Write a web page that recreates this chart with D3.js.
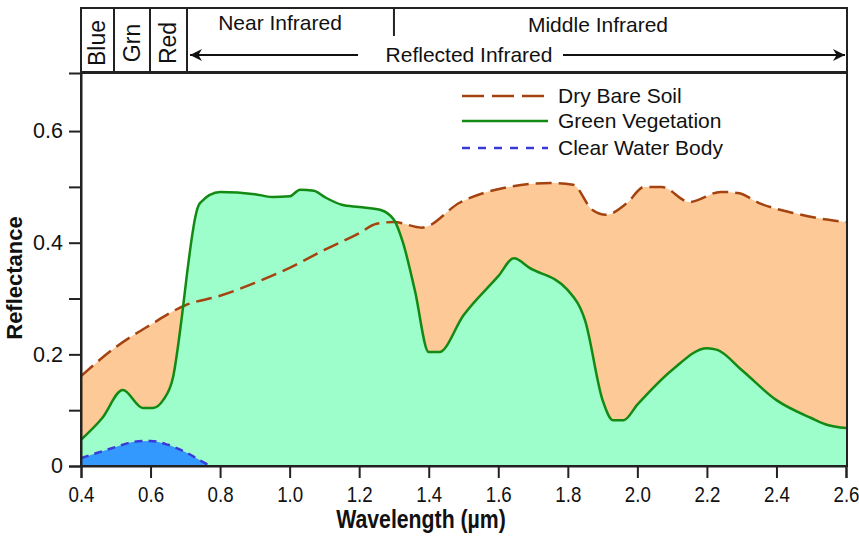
<!DOCTYPE html>
<html>
<head>
	<title>Spectral reflectance</title>
	<meta charset="utf-8">
	<script src="https://cdn.jsdelivr.net/npm/d3@7"></script>
	<style>
		body { margin: 0; background: #fff; }
		text { font-family: "Liberation Sans", Arial, sans-serif; fill: #111; }
	</style>
</head>
<body>
<div id="chart"></div>
<script>
// data
var xTicks = [0.4, 0.6, 0.8, 1.0, 1.2, 1.4, 1.6, 1.8, 2.0, 2.2, 2.4, 2.6];
var yTicks = [0, 0.1, 0.2, 0.3, 0.4, 0.5, 0.6];
var yLabels = [0, 0.2, 0.4, 0.6];

var soilWl = [0.4, 0.5, 0.6, 0.7, 0.8, 0.9, 1.0, 1.1, 1.2, 1.25, 1.3, 1.38, 1.49, 1.63, 1.75, 1.815, 1.87, 1.91, 1.97, 2.02, 2.07, 2.15, 2.24, 2.29, 2.35, 2.45, 2.55, 2.6];
var soilR  = [0.161, 0.213, 0.253, 0.288, 0.305, 0.328, 0.355, 0.387, 0.417, 0.434, 0.437, 0.427, 0.472, 0.500, 0.507, 0.504, 0.459, 0.450, 0.471, 0.500, 0.500, 0.473, 0.491, 0.489, 0.471, 0.453, 0.441, 0.437];

var vegWl = [0.4, 0.46, 0.52, 0.578, 0.607, 0.636, 0.665, 0.69, 0.705, 0.719, 0.728, 0.742, 0.8, 0.9, 0.95, 1.0, 1.03, 1.07, 1.1, 1.15, 1.2, 1.26, 1.3, 1.326, 1.36, 1.40, 1.43, 1.5, 1.6, 1.645, 1.69, 1.8, 1.85, 1.9, 1.93, 1.96, 2.0, 2.1, 2.2, 2.23, 2.3, 2.4, 2.5, 2.55, 2.6];
var vegR  = [0.047, 0.085, 0.136, 0.104, 0.104, 0.118, 0.16, 0.267, 0.345, 0.41, 0.444, 0.471, 0.491, 0.487, 0.482, 0.483, 0.495, 0.493, 0.482, 0.468, 0.464, 0.459, 0.441, 0.40, 0.315, 0.204, 0.204, 0.27, 0.34, 0.372, 0.355, 0.315, 0.26, 0.118, 0.082, 0.082, 0.11, 0.172, 0.211, 0.208, 0.172, 0.118, 0.086, 0.073, 0.068];

var waterWl = [0.4, 0.5, 0.55, 0.6, 0.65, 0.7, 0.74, 0.771];
var waterR  = [0.014, 0.034, 0.043, 0.045, 0.038, 0.025, 0.011, 0.0];

var legendNames = ["Dry Bare Soil", "Green Vegetation", "Clear Water Body"];
var bandNames = ["Blue", "Grn", "Red"];
var regionNames = ["Near Infrared", "Middle Infrared", "Reflected Infrared"];

var width = 859, height = 539;
var svg = d3.select("#chart").append("svg")
	.attr("width", width)
	.attr("height", height);

var x = d3.scaleLinear().domain([0.4, 2.6]).range([81, 846]);
var y = d3.scaleLinear().domain([0, 0.704]).range([466, 73]);

function pts(ws, rs) { return ws.map(function(w, i) { return [w, rs[i]]; }); }

var area = d3.area().x(function(d) { return x(d[0]); })
	.y0(y(0)).y1(function(d) { return y(d[1]); })
	.curve(d3.curveMonotoneX);
var line = d3.line().x(function(d) { return x(d[0]); })
	.y(function(d) { return y(d[1]); })
	.curve(d3.curveMonotoneX);

var soil = pts(soilWl, soilR), veg = pts(vegWl, vegR), water = pts(waterWl, waterR);

// fills
svg.append("path").attr("d", area(soil)).attr("fill", "#fdc996");
svg.append("path").attr("d", area(veg)).attr("fill", "#9dfdcb");
svg.append("path").attr("d", area(water)).attr("fill", "#3399ff");

// lines
svg.append("path").attr("d", line(soil)).attr("fill", "none")
	.attr("stroke", "#a4430f").attr("stroke-width", 2.5).attr("stroke-dasharray", "16,7");
svg.append("path").attr("d", line(veg)).attr("fill", "none")
	.attr("stroke", "#138a13").attr("stroke-width", 2.5);
svg.append("path").attr("d", line(water)).attr("fill", "none")
	.attr("stroke", "#3a3ad8").attr("stroke-width", 2.5).attr("stroke-dasharray", "8,6");

// frame
svg.append("rect").attr("x", x(0.4)).attr("y", y(0.704))
	.attr("width", x(2.6) - x(0.4) + 1).attr("height", y(0) - y(0.704))
	.attr("fill", "none").attr("stroke", "#222").attr("stroke-width", 2);

// axes
var xAxis = d3.axisBottom(x).tickValues(xTicks).tickSize(12).tickFormat(d3.format(".1f"));
var gx = svg.append("g").attr("transform", "translate(0," + y(0) + ")").call(xAxis);
gx.select(".domain").attr("stroke-width", 2).attr("stroke", "#222");
gx.selectAll(".tick line").attr("stroke-width", 2).attr("stroke", "#222");
gx.selectAll("text").attr("font-size", 22).attr("dy", "0.95em")
	.attr("transform", "scale(0.85,1)");

var yAxis = d3.axisLeft(y).tickValues(yTicks).tickSize(12)
	.tickFormat(function(d) { return yLabels.indexOf(d) >= 0 ? (d === 0 ? "0" : d3.format(".1f")(d)) : ""; });
var gy = svg.append("g").attr("transform", "translate(" + x(0.4) + ",0)").call(yAxis);
gy.select(".domain").attr("stroke-width", 2).attr("stroke", "#222");
gy.selectAll(".tick line").attr("stroke-width", 2).attr("stroke", "#222");
gy.selectAll("text").attr("font-size", 21.5).attr("x", -18);

svg.append("text").attr("transform", "translate(421,528) scale(0.85,1)")
	.attr("text-anchor", "middle")
	.attr("font-size", 25).attr("font-weight", "bold")
	.text("Wavelength (\u00b5m)");
svg.append("text").attr("transform", "translate(22,278) rotate(-90)")
	.attr("text-anchor", "middle").attr("font-size", 22).attr("font-weight", "bold")
	.text("Reflectance");

// header box
var hTop = 8, hBot = 72;
var hdr = svg.append("g");
hdr.append("rect").attr("x", x(0.4)).attr("y", hTop)
	.attr("width", x(2.6) - x(0.4) + 1).attr("height", hBot - hTop)
	.attr("fill", "#fff").attr("stroke", "#222").attr("stroke-width", 2);
var cellX = [81, 114, 150, 187];
cellX.slice(1).forEach(function(cx) {
	hdr.append("line").attr("x1", cx).attr("x2", cx)
		.attr("y1", hTop).attr("y2", hBot).attr("stroke", "#222").attr("stroke-width", 2);
});
bandNames.forEach(function(n, i) {
	var cx = (cellX[i] + cellX[i + 1]) / 2 + 7.5;
	hdr.append("text").attr("transform", "translate(" + cx + ",43) rotate(-90)")
		.attr("text-anchor", "middle").attr("font-size", 23).text(n);
});
hdr.append("line").attr("x1", x(1.3)).attr("x2", x(1.3)).attr("y1", hTop).attr("y2", 36)
	.attr("stroke", "#222").attr("stroke-width", 2);
hdr.append("text").attr("x", 280).attr("y", 30).attr("text-anchor", "middle")
	.attr("font-size", 21).text(regionNames[0]);
hdr.append("text").attr("x", 598).attr("y", 32).attr("text-anchor", "middle")
	.attr("font-size", 21).text(regionNames[1]);
hdr.append("text").attr("x", 469).attr("y", 62).attr("text-anchor", "middle")
	.attr("font-size", 21).text(regionNames[2]);

svg.append("defs").append("marker").attr("id", "arr")
	.attr("viewBox", "0 0 10 10").attr("refX", 10).attr("refY", 5)
	.attr("markerWidth", 6).attr("markerHeight", 6).attr("orient", "auto-start-reverse")
	.append("path").attr("d", "M0,0 L10,5 L0,10 L3,5 Z").attr("fill", "#111");
hdr.append("line").attr("x1", 358).attr("x2", 190).attr("y1", 55).attr("y2", 55)
	.attr("stroke", "#111").attr("stroke-width", 2).attr("marker-end", "url(#arr)");
hdr.append("line").attr("x1", 563).attr("x2", 845).attr("y1", 55).attr("y2", 55)
	.attr("stroke", "#111").attr("stroke-width", 2).attr("marker-end", "url(#arr)");

// legend
var lg = svg.append("g");
var lgY = [96, 121, 148];
var lgStroke = ["#a4430f", "#138a13", "#3a3ad8"];
var lgDash = ["22,8", null, "8,8"];
legendNames.forEach(function(n, i) {
	lg.append("line").attr("x1", 462).attr("x2", 548).attr("y1", lgY[i]).attr("y2", lgY[i])
		.attr("stroke", lgStroke[i]).attr("stroke-width", 2.5).attr("stroke-dasharray", lgDash[i]);
	lg.append("text").attr("x", 558).attr("y", lgY[i] + 7).attr("font-size", 21).text(n);
});
</script>
</body>
</html>
